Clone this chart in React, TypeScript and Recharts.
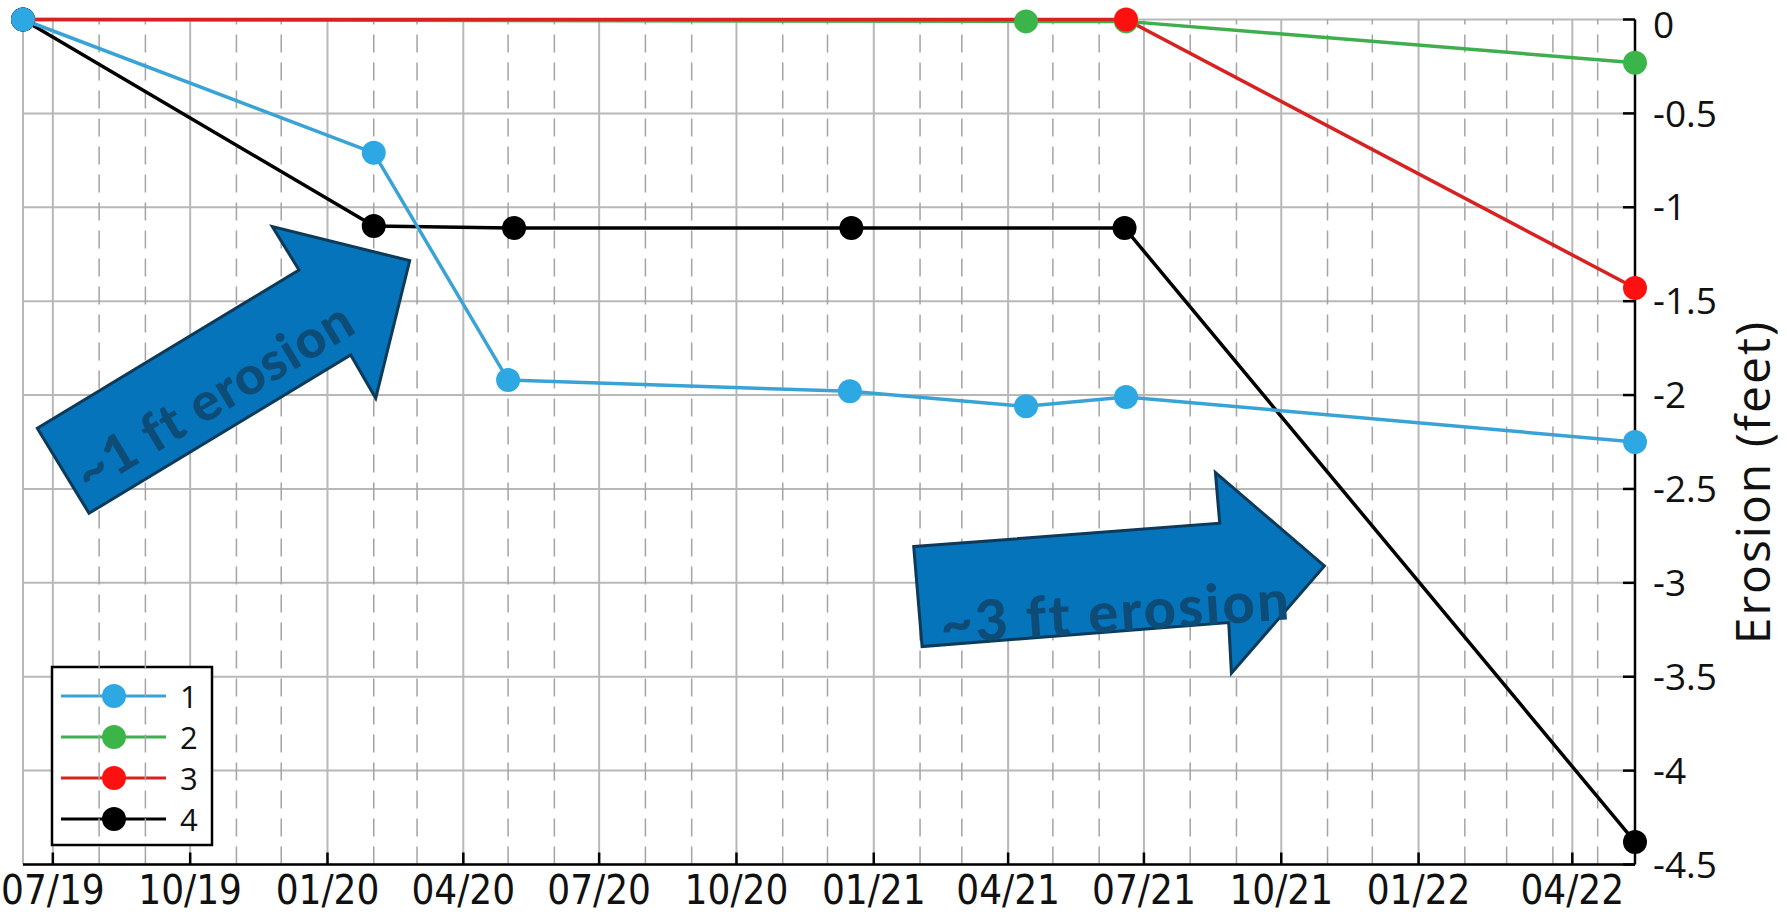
import React from 'react';
import {
  LineChart,
  Line,
  XAxis,
  YAxis,
  CartesianGrid,
  ReferenceLine,
  ReferenceDot,
  Customized,
  Label,
} from 'recharts';

// ---------------- data ----------------
const xDomainDates = ['2019-06-11', '2022-05-26'];
const xTickDates = [
  '2019-07-01', '2019-10-01', '2020-01-01', '2020-04-01', '2020-07-01', '2020-10-01',
  '2021-01-01', '2021-04-01', '2021-07-01', '2021-10-01', '2022-01-01', '2022-04-14',
];
const yTicks = [0, -0.5, -1, -1.5, -2, -2.5, -3, -3.5, -4, -4.5];

const series1Dates = ['2019-06-11', '2020-02-01', '2020-05-01', '2020-12-16', '2021-04-13', '2021-06-19', '2022-05-26'];
const series1Values = [0, -0.71, -1.92, -1.98, -2.06, -2.01, -2.25];

const series2Dates = ['2019-06-11', '2021-04-13', '2021-06-19', '2022-05-26'];
const series2Values = [0, -0.01, -0.01, -0.23];

const series3Dates = ['2019-06-11', '2021-06-19', '2022-05-26'];
const series3Values = [0, 0, -1.43];

const series4Dates = ['2019-06-11', '2020-02-01', '2020-05-05', '2020-12-17', '2021-06-18', '2022-05-26'];
const series4Values = [0, -1.1, -1.11, -1.11, -1.11, -4.38];

const seriesNames = ['1', '2', '3', '4'];
const lineColors = ['#3aa3d6', '#3fae4c', '#d82222', '#000000'];
const markerColors = ['#2ea8e2', '#3bb54a', '#ff1010', '#000000'];

const annotationDates = ['2019-10-23', '2021-06-08'];
const annotationValues = [-1.87, -2.985];
const annotationTexts = ['~1 ft erosion', '~3 ft erosion'];

// ---------------- helpers ----------------
const toT = (s: string) => Date.UTC(+s.slice(0, 4), +s.slice(5, 7) - 1, +s.slice(8, 10));
const fmtTick = (t: number) => {
  const d = new Date(t);
  const m = String(d.getUTCMonth() + 1).padStart(2, '0');
  const y = String(d.getUTCFullYear() % 100).padStart(2, '0');
  return `${m}/${y}`;
};
const build = (dates: string[], vals: number[]) => dates.map((d, i) => ({ t: toT(d), v: vals[i] }));

const data1 = build(series1Dates, series1Values);
const data2 = build(series2Dates, series2Values);
const data3 = build(series3Dates, series3Values);
const data4 = build(series4Dates, series4Values);

const xDomain = [toT(xDomainDates[0]), toT(xDomainDates[1])];
const xTicks = xTickDates.map(toT);

// monthly minor grid (month starts inside the domain, excluding tick positions)
const monthLines: number[] = [];
{
  let y = 2019;
  let m = 6;
  while (true) {
    const t = Date.UTC(y, m, 1);
    if (t > xDomain[1]) break;
    if (t >= xDomain[0] && !xTicks.includes(t)) monthLines.push(t);
    m += 1;
    if (m > 11) { m = 0; y += 1; }
  }
}

const FONT = "'Open Sans', 'Noto Sans', sans-serif";
const NARROW = "'Liberation Sans Narrow', 'DejaVu Sans Condensed', 'Open Sans', sans-serif";
const W = 1787;
const H = 924;

// ---------------- annotation shapes ----------------
const ARROW_FILL = '#0574bb';
const ARROW_STROKE = '#0c3a58';
const ARROW_TEXT = '#0e4c78';

const arrow1Pts = [
  [-185.7, 57.6], [76, -100.7], [49.3, -144], [186.7, -110], [152.7, 27.6], [127.7, -15.7], [-134, 142.6],
];
const arrow2Pts = [
  [-195.9, -33.4], [110.1, -56.8], [105.8, -107.4], [214.8, -14.1], [121.8, 93.2], [119.1, 42.6], [-187.5, 66.6],
];

const makeArrow = (
  pts: number[][], text: string, tx: number, ty: number, angle: number, fs: number, ls: number,
) => (props: any) => {
  const { cx, cy } = props;
  if (cx == null || cy == null) return null;
  return (
    <g transform={`translate(${cx},${cy})`}>
      <polygon
        points={pts.map((p) => p.join(',')).join(' ')}
        fill={ARROW_FILL}
        stroke={ARROW_STROKE}
        strokeWidth={3}
        strokeLinejoin="miter"
      />
      <text
        transform={`translate(${tx},${ty}) rotate(${angle})`}
        textAnchor="middle"
        dominantBaseline="central"
        fontFamily="Lato, 'Open Sans', sans-serif"
        fontWeight={900}
        fontSize={fs}
        letterSpacing={ls}
        fill={ARROW_TEXT}
      >
        {text}
      </text>
    </g>
  );
};

const arrowShapes = [
  makeArrow(arrow1Pts, annotationTexts[0], -10, 24, -31, 53, 1),
  makeArrow(arrow2Pts, annotationTexts[1], 6, 30, -4, 56, 2.5),
];

// ---------------- legend ----------------
const LegendBox = () => {
  const x0 = 52;
  const y0 = 667;
  const w = 160;
  const h = 178;
  const rowY = [696, 737, 778, 819];
  return (
    <g>
      <rect x={x0} y={y0} width={w} height={h} fill="#ffffff" stroke="#000" strokeWidth={2.5} />
      {seriesNames.map((n, i) => (
        <g key={n}>
          <line x1={61} x2={166} y1={rowY[i]} y2={rowY[i]} stroke={lineColors[i]} strokeWidth={3} />
          <circle cx={114} cy={rowY[i]} r={12} fill={markerColors[i]} />
          <text x={180} y={rowY[i]} dominantBaseline="central" fontFamily={FONT} fontSize={31} fill="#111">
            {n}
          </text>
        </g>
      ))}
    </g>
  );
};

// ---------------- y axis ticks & label ----------------
const RightTick = (props: any) => {
  const { x, y, payload } = props;
  const v = payload?.value;
  const shift = v === 0 ? 5 : 0;
  return (
    <text
      x={x}
      y={y + shift}
      dy="0.355em"
      textAnchor="start"
      fontFamily={FONT}
      fontSize={37}
      fill="#111"
    >
      {String(v)}
    </text>
  );
};

const YLabel = (props: any) => {
  const vb = props.viewBox || {};
  const cx = (vb.x ?? 1635) + 135;
  const cy = (vb.y ?? 19.5) + (vb.height ?? 845) / 2 + 40;
  return (
    <text
      x={cx}
      y={cy}
      transform={`rotate(-90 ${cx} ${cy})`}
      textAnchor="middle"
      fontFamily={FONT}
      fontSize={48}
      letterSpacing={2}
      fill="#111"
    >
      Erosion (feet)
    </text>
  );
};

const axisLine = { stroke: '#000', strokeWidth: 2.5 };
const tickLine = { stroke: '#000', strokeWidth: 2.5 };

export default function App() {
  const seriesOrder = [
    { data: data2, idx: 1 },
    { data: data3, idx: 2 },
    { data: data4, idx: 3 },
    { data: data1, idx: 0 },
  ];
  return (
    <div style={{ position: 'absolute', left: 0, top: 0, width: W, height: H, background: '#fff', fontFamily: FONT }}>
      <LineChart width={W} height={H} margin={{ top: 19.5, right: 0, bottom: 0, left: 23 }}>
        <CartesianGrid xAxisId="b" yAxisId="r" stroke="#b8b8b8" strokeWidth={2} />
        {monthLines.map((t) => (
          <ReferenceLine
            key={t}
            x={t}
            xAxisId="b"
            yAxisId="r"
            stroke="#a4a4a4"
            strokeWidth={1.5}
            strokeDasharray="18 10"
          />
        ))}
        <XAxis
          xAxisId="b"
          orientation="bottom"
          type="number"
          dataKey="t"
          domain={xDomain}
          ticks={xTicks}
          interval={0}
          height={59.5}
          tickSize={-12}
          tickMargin={23}
          tickFormatter={fmtTick}
          tick={{ fontSize: 40, fill: '#111', fontFamily: NARROW }}
          axisLine={axisLine}
          tickLine={tickLine}
        />
        <XAxis
          xAxisId="top"
          orientation="top"
          type="number"
          dataKey="t"
          domain={xDomain}
          ticks={xTicks}
          interval={0}
          height={0}
          tickSize={-12}
          tickFormatter={() => ''}
          axisLine={axisLine}
          tickLine={tickLine}
        />
        <YAxis
          yAxisId="r"
          orientation="right"
          type="number"
          domain={[-4.5, 0]}
          ticks={yTicks}
          interval={0}
          width={152}
          tickSize={-12}
          tickMargin={30}
          tick={<RightTick />}
          axisLine={axisLine}
          tickLine={tickLine}
        >
          <Label content={<YLabel />} />
        </YAxis>
        <YAxis
          yAxisId="l"
          orientation="left"
          type="number"
          domain={[-4.5, 0]}
          ticks={yTicks}
          interval={0}
          width={0}
          tickSize={-12}
          tickFormatter={() => ''}
          axisLine={axisLine}
          tickLine={tickLine}
        />
        {seriesOrder.map(({ data, idx }) => (
          <Line
            key={idx}
            xAxisId="b"
            yAxisId="r"
            data={data}
            dataKey="v"
            name={seriesNames[idx]}
            type="linear"
            stroke={lineColors[idx]}
            strokeWidth={3.5}
            dot={{ r: 12, fill: markerColors[idx], stroke: markerColors[idx], strokeWidth: 0 }}
            activeDot={false}
            isAnimationActive={false}
          />
        ))}
        {annotationDates.map((d, i) => (
          <ReferenceDot
            key={d}
            xAxisId="b"
            yAxisId="r"
            x={toT(d)}
            y={annotationValues[i]}
            r={1}
            shape={arrowShapes[i]}
          />
        ))}
        <Customized component={<LegendBox />} />
      </LineChart>
    </div>
  );
}
